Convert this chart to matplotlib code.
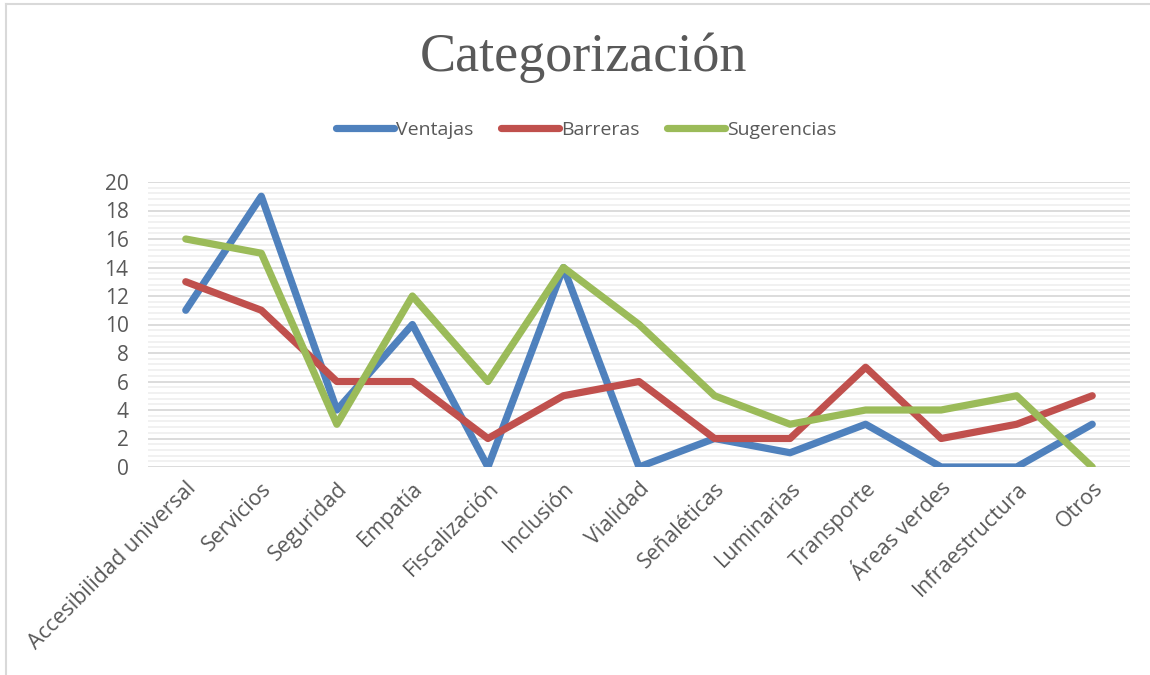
import matplotlib.pyplot as plt
from matplotlib.lines import Line2D
from matplotlib.ticker import MultipleLocator

categorias = ["Accesibilidad universal", "Servicios", "Seguridad", "Empatía",
              "Fiscalización", "Inclusión", "Vialidad", "Señaléticas",
              "Luminarias", "Transporte", "Áreas verdes", "Infraestructura", "Otros"]
ventajas = [11, 19, 4, 10, 0, 14, 0, 2, 1, 3, 0, 0, 3]
barreras = [13, 11, 6, 6, 2, 5, 6, 2, 2, 7, 2, 3, 5]
sugerencias = [16, 15, 3, 12, 6, 14, 10, 5, 3, 4, 4, 5, 0]

W, H = 1150, 675
fig = plt.figure(figsize=(W / 100, H / 100), dpi=100)
ax = fig.add_axes([148 / W, 1 - 467 / H, (1130 - 148) / W, (467 - 182) / H])

# marco del gráfico (solo izquierda y arriba visibles)
fig.lines.append(Line2D([5.5 / W, 5.5 / W], [0, 1 - 3.5 / H], transform=fig.transFigure,
                        color="#d9d9d9", lw=1.5))
fig.lines.append(Line2D([5.5 / W, 1], [1 - 3.5 / H, 1 - 3.5 / H], transform=fig.transFigure,
                        color="#d9d9d9", lw=1.5))

x = range(len(categorias))
ax.plot(x, ventajas, color="#4F81BD", lw=5.2, solid_capstyle="round", label="Ventajas")
ax.plot(x, barreras, color="#C0504D", lw=5.2, solid_capstyle="round", label="Barreras")
ax.plot(x, sugerencias, color="#9BBB59", lw=5.2, solid_capstyle="round", label="Sugerencias")

ax.set_xlim(-0.5, len(categorias) - 0.5)
ax.set_ylim(0, 20)
ax.yaxis.set_major_locator(MultipleLocator(2))
ax.yaxis.set_minor_locator(MultipleLocator(0.4))
ax.grid(axis="y", which="major", color="#d9d9d9", lw=1.3)
ax.grid(axis="y", which="minor", color="#f0f0f0", lw=1.3)
ax.set_axisbelow(True)
for s in ax.spines.values():
    s.set_visible(False)

ax.set_xticks(list(x))
ax.set_xticklabels(categorias, rotation=45, ha="right", rotation_mode="anchor",
                   fontsize=15.5, color="#595959", family="Open Sans")
ax.tick_params(axis="both", which="both", length=0)
ax.tick_params(axis="x", pad=8)
ax.tick_params(axis="y", pad=14)
for t in ax.get_yticklabels():
    t.set_fontsize(15)
    t.set_color("#595959")
    t.set_family("Open Sans")

fig.text(583 / W, 1 - 58 / H, "Categorización", ha="center", va="center",
         fontsize=39, color="#595959", family="Liberation Serif")

fig.legend(loc="center", bbox_to_anchor=(586 / W, 1 - 130 / H), ncol=3, frameon=False,
           handlelength=3.0, handletextpad=0.1, columnspacing=1.4,
           prop={"family": "Open Sans", "size": 14}, labelcolor="#595959")

fig.savefig("out.png", dpi=100, facecolor="white")
